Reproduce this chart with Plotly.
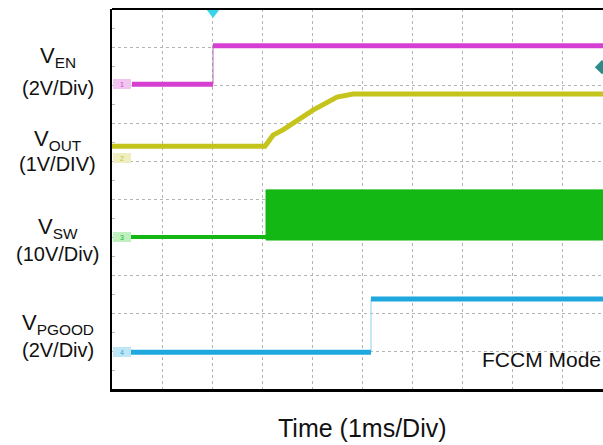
import plotly.graph_objects as go

# ---- data (time in divisions, level in divisions) ----
ven_time = [0.4, 2.02, 2.02, 9.9]
ven_level = [8.02, 8.02, 9.03, 9.03]

vout_time = [0.0, 3.06, 3.22, 3.42, 4.02, 4.5, 4.82, 9.9]
vout_level = [6.39, 6.39, 6.68, 6.82, 7.34, 7.68, 7.76, 7.76]

vsw_time = [0.26, 3.08, 9.9]
vsw_low = [4.0, 4.0, 4.0]
vsw_burst_top = 5.24
vsw_burst_bottom = 3.92

pg_time = [0.32, 5.18, 5.18, 9.9]
pg_level = [0.97, 0.97, 2.37, 2.37]

ground_levels = [8.02, 6.08, 4.0, 0.97]
ground_names = ["1", "2", "3", "4"]

trigger_time = 2.02
trig_level_marker = (9.80, 8.47)

labels_main = ["V<sub>EN</sub>", "V<sub>OUT</sub>", "V<sub>SW</sub>", "V<sub>PGOOD</sub>"]
labels_scale = ["(2V/Div)", "(1V/DIV)", "(10V/Div)", "(2V/Div)"]
label_main_y = [8.74, 6.56, 4.24, 1.7]
label_scale_y = [7.92, 5.92, 3.56, 1.03]

x_title = "Time (1ms/Div)"
mode_text = "FCCM Mode"

C_EN = "#d540d2"
C_OUT = "#c4c41c"
C_SW = "#14b814"
C_PG = "#1ea8de"
C_EN_L = "#f2c4f0"
C_OUT_L = "#eeeec0"
C_SW_L = "#bff0bf"
C_PG_L = "#bfe6f5"

fig = go.Figure()

# VEN
fig.add_trace(go.Scatter(x=ven_time, y=ven_level, mode="lines",
                         line=dict(color="#b070b0", width=1), hoverinfo="skip"))
fig.add_trace(go.Scatter(x=ven_time[:2], y=ven_level[:2], mode="lines",
                         line=dict(color=C_EN, width=5), hoverinfo="skip"))
fig.add_trace(go.Scatter(x=ven_time[2:], y=ven_level[2:], mode="lines",
                         line=dict(color=C_EN, width=5), hoverinfo="skip"))

# VOUT
fig.add_trace(go.Scatter(x=vout_time, y=vout_level, mode="lines",
                         line=dict(color=C_OUT, width=5), hoverinfo="skip"))

# VSW
fig.add_trace(go.Scatter(x=vsw_time, y=vsw_low, mode="lines",
                         line=dict(color=C_SW, width=4), hoverinfo="skip"))
burst_x = [vsw_time[1], vsw_time[2], vsw_time[2], vsw_time[1], vsw_time[1]]
burst_y = [vsw_burst_bottom, vsw_burst_bottom, vsw_burst_top, vsw_burst_top, vsw_burst_bottom]
fig.add_trace(go.Scatter(x=burst_x, y=burst_y, mode="lines", fill="toself",
                         fillcolor=C_SW, line=dict(color=C_SW, width=1), hoverinfo="skip"))

# VPGOOD
fig.add_trace(go.Scatter(x=pg_time, y=pg_level, mode="lines",
                         line=dict(color="#8fd0ee", width=1), hoverinfo="skip"))
fig.add_trace(go.Scatter(x=pg_time[:2], y=pg_level[:2], mode="lines",
                         line=dict(color=C_PG, width=5), hoverinfo="skip"))
fig.add_trace(go.Scatter(x=pg_time[2:], y=pg_level[2:], mode="lines",
                         line=dict(color=C_PG, width=5), hoverinfo="skip"))

# trigger marker & trigger level marker
fig.add_trace(go.Scatter(x=[trigger_time], y=[9.92], mode="markers",
                         marker=dict(symbol="triangle-down", size=12, color="#38d4e8"),
                         cliponaxis=False, hoverinfo="skip"))
fig.add_trace(go.Scatter(x=[trig_level_marker[0]], y=[trig_level_marker[1]], mode="markers",
                         marker=dict(symbol="diamond", size=11, color="#2e8a8a"),
                         cliponaxis=False, hoverinfo="skip"))

# ground tags
tag_fill = [C_EN_L, C_OUT_L, C_SW_L, C_PG_L]
tag_line = [C_EN, C_OUT, C_SW, C_PG]
for lvl, nm, fc, lc in zip(ground_levels, ground_names, tag_fill, tag_line):
    fig.add_annotation(x=0.02, y=lvl, xref="x", yref="y", text=nm, showarrow=False,
                       xanchor="left", yanchor="middle",
                       font=dict(size=7, color=lc), bgcolor=fc, bordercolor=fc,
                       borderwidth=1, borderpad=0, width=16, height=8)

FONT = "Liberation Sans, Arial, sans-serif"
for t, y in zip(labels_main, label_main_y):
    fig.add_annotation(x=-0.11, y=y, xref="paper", yref="y", text=t, showarrow=False,
                       xanchor="center", yanchor="middle",
                       font=dict(family=FONT, size=22, color="#111"))
for t, y in zip(labels_scale, label_scale_y):
    fig.add_annotation(x=-0.11, y=y, xref="paper", yref="y", text=t, showarrow=False,
                       xanchor="center", yanchor="middle",
                       font=dict(family=FONT, size=20, color="#111"))

fig.add_annotation(x=0.511, y=-0.103, xref="paper", yref="paper", text=x_title,
                   showarrow=False, xanchor="center", yanchor="middle",
                   font=dict(family=FONT, size=25, color="#111"))
fig.add_annotation(x=8.58, y=0.77, xref="x", yref="y", text=mode_text,
                   showarrow=False, xanchor="center", yanchor="middle",
                   font=dict(family=FONT, size=21, color="#111"))

# top border
fig.add_shape(type="line", xref="paper", yref="paper", x0=0, x1=1, y0=1, y1=1,
              line=dict(color="#000", width=2))

fig.update_xaxes(range=[0, 9.82], dtick=1, tick0=0, showgrid=True,
                 gridcolor="#b4b4b4", gridwidth=1, griddash="dot",
                 showline=True, linecolor="#000", linewidth=2.5,
                 showticklabels=False, ticks="", zeroline=False)
fig.update_yaxes(range=[0, 10], dtick=1, tick0=0, showgrid=True,
                 gridcolor="#b4b4b4", gridwidth=1, griddash="dot",
                 showline=True, linecolor="#000", linewidth=2,
                 showticklabels=False, ticks="", zeroline=False,
                 minor=dict(dtick=0.5, ticks="inside", ticklen=3, tickcolor="#bbb", showgrid=False))

fig.update_layout(width=603, height=445, margin=dict(l=112, r=0, t=9, b=56),
                  plot_bgcolor="white", paper_bgcolor="white", showlegend=False,
                  font=dict(family=FONT))

fig.write_html("out.html", config={"displayModeBar": False},
               post_script="document.body.style.margin='0px';document.body.style.overflow='hidden';")
